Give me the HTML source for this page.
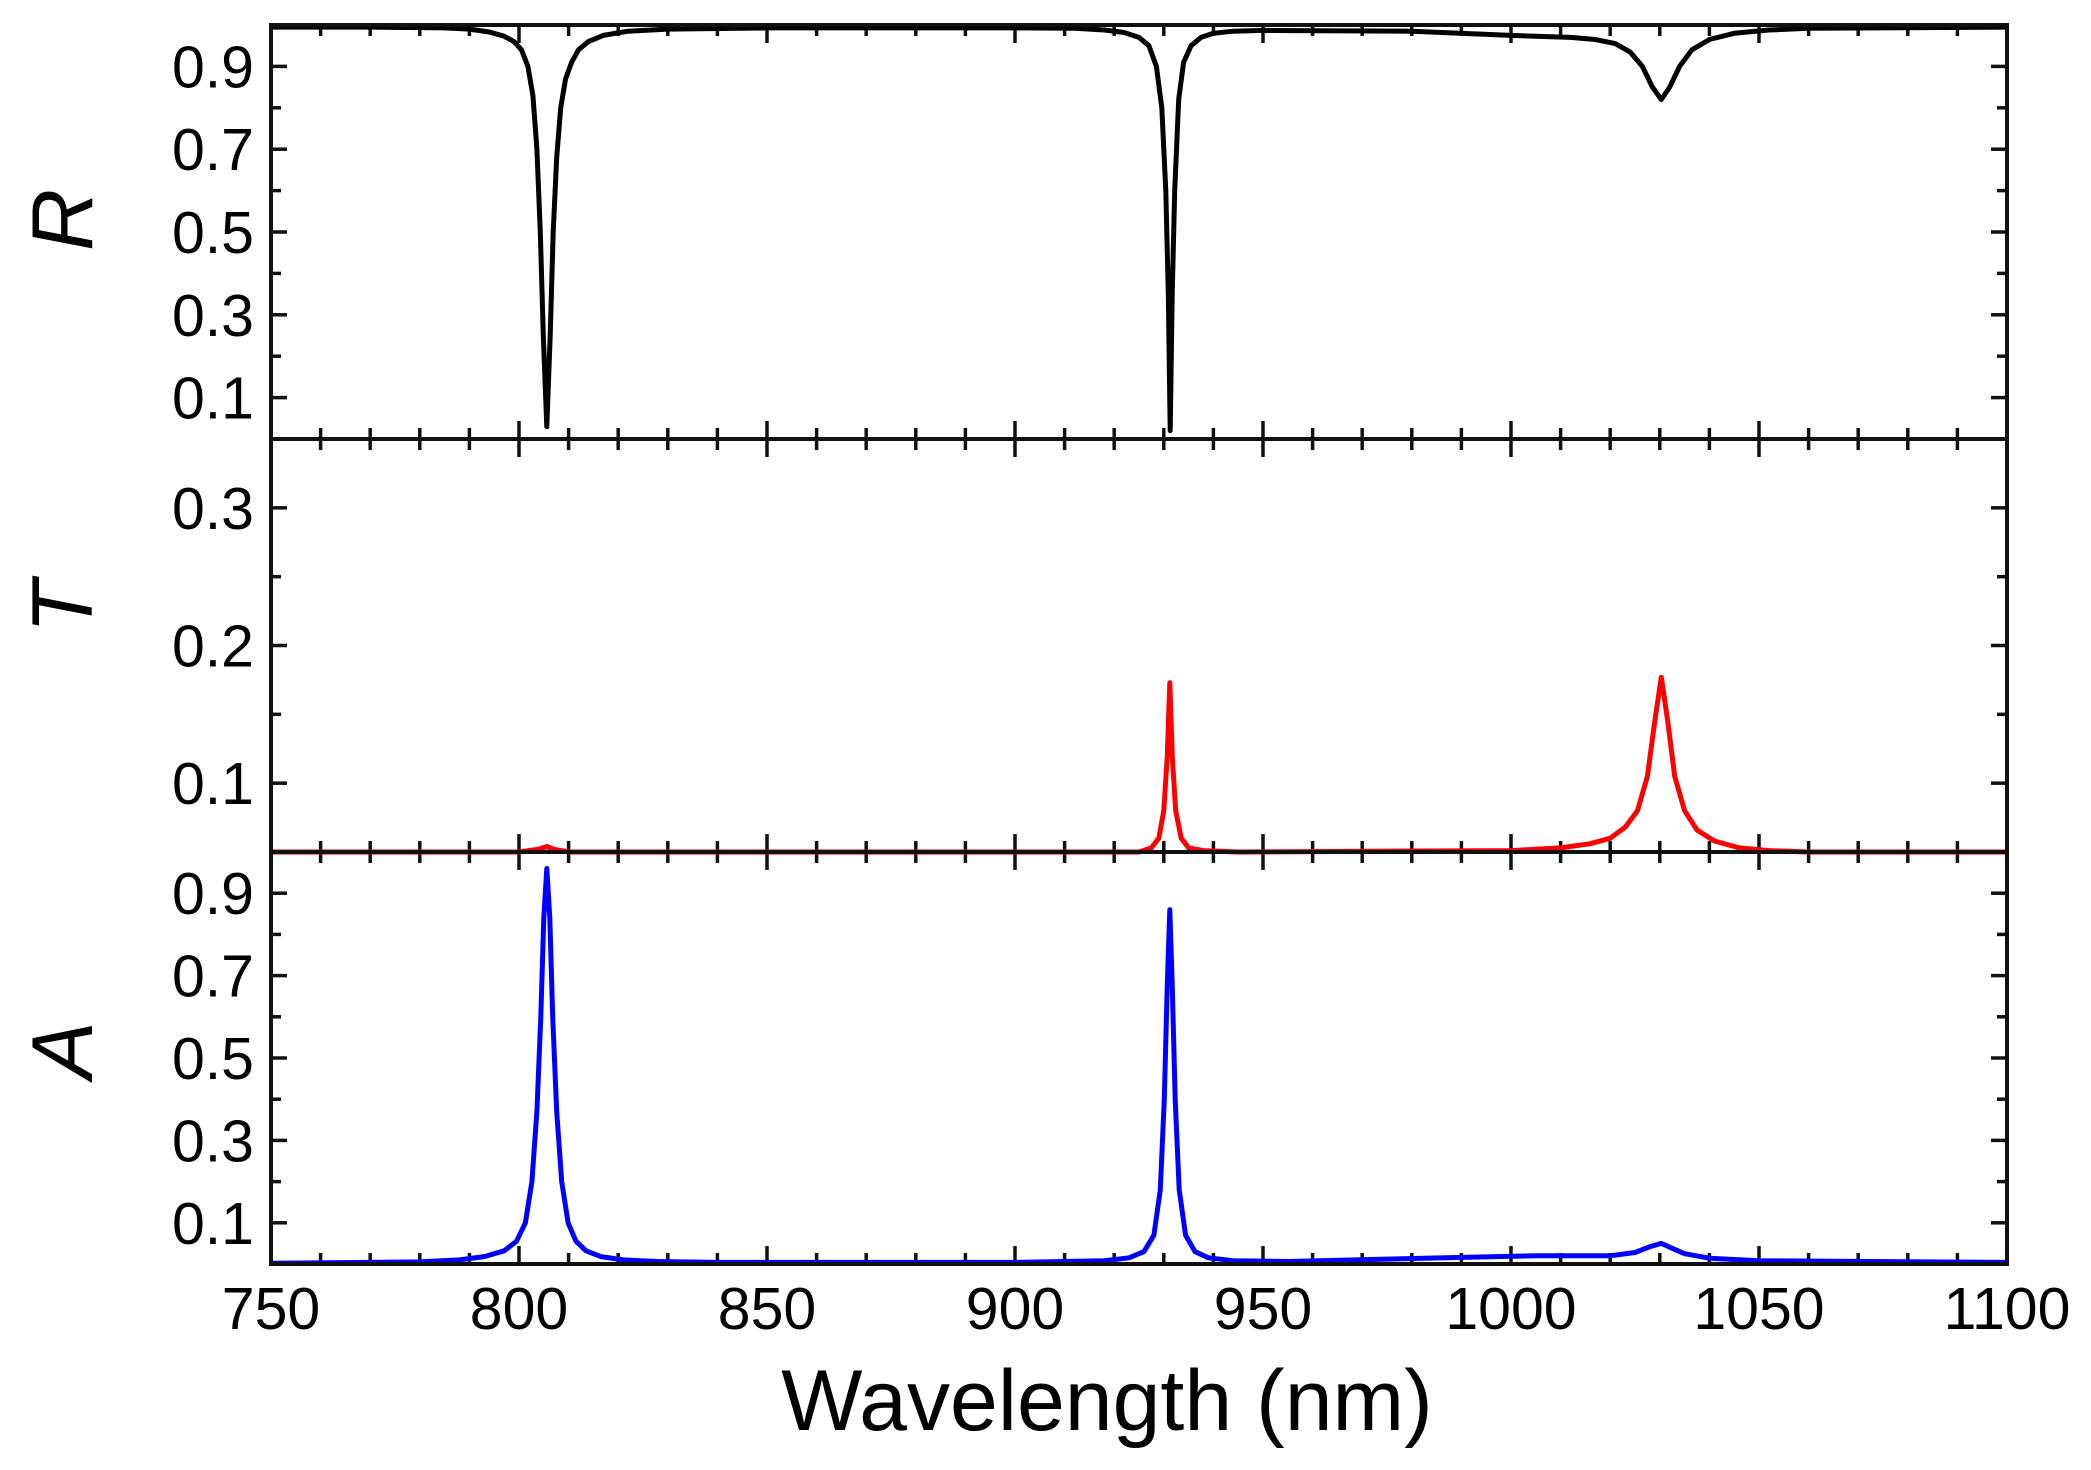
<!DOCTYPE html>
<html><head><meta charset="utf-8"><style>
html,body{margin:0;padding:0;background:#fff;}
svg{display:block;}
text{font-family:"Liberation Sans",Arial,sans-serif;fill:#000;}
</style></head>
<body>
<svg id="chart" width="2091" height="1470" viewBox="0 0 2091 1470" xmlns="http://www.w3.org/2000/svg">
<g id="axes"></g>
<g id="series"></g>
<g id="frames"></g>
<text x="1107" y="1430" font-size="86" text-anchor="middle">Wavelength (nm)</text>
<text font-size="86" font-style="italic" text-anchor="middle" transform="translate(92,220) rotate(-90)">R</text>
<text font-size="86" font-style="italic" text-anchor="middle" transform="translate(92,607) rotate(-90)">T</text>
<text font-size="86" font-style="italic" text-anchor="middle" transform="translate(92,1050) rotate(-90)">A</text>
</svg>
<script>
// ---- data ----
const xTickLabels = [750, 800, 850, 900, 950, 1000, 1050, 1100];
const rTickLabels = [0.1, 0.3, 0.5, 0.7, 0.9];
const tTickLabels = [0.1, 0.2, 0.3];
const aTickLabels = [0.1, 0.3, 0.5, 0.7, 0.9];

const rWavelength = [750,770,785,790,794,797,799,800.5,801.8,802.8,803.6,804.3,804.9,805.6,806.3,806.9,807.6,808.4,809.4,810.6,812,814,817,822,830,850,900,912,918,922,925,927,928.5,929.6,930.4,930.9,931.3,931.7,932.2,933,934,935.5,937.5,940,944,950,980,1000,1012,1017,1021,1024,1026.5,1028.5,1030.3,1032,1034,1036.5,1040,1045,1052,1060,1100];
const rValues = [0.995,0.995,0.993,0.99,0.983,0.973,0.96,0.94,0.9,0.83,0.7,0.5,0.25,0.03,0.25,0.5,0.68,0.8,0.87,0.91,0.94,0.96,0.975,0.985,0.99,0.993,0.993,0.992,0.988,0.982,0.97,0.95,0.9,0.8,0.6,0.35,0.02,0.35,0.6,0.82,0.91,0.95,0.97,0.98,0.985,0.987,0.985,0.975,0.97,0.965,0.955,0.935,0.9,0.85,0.82,0.85,0.9,0.94,0.965,0.98,0.988,0.992,0.995];

const tWavelength = [750,800,804,805.6,807,810,925,927.5,929,930,930.7,931.2,931.7,932.4,933.5,935,938,945,1000,1010,1016,1020,1023,1025.5,1027.5,1029,1030.3,1031.6,1033,1035,1037.5,1041,1046,1052,1060,1100];
const tValues = [0.05,0.05,0.052,0.054,0.052,0.05,0.05,0.053,0.06,0.08,0.12,0.173,0.12,0.08,0.06,0.053,0.051,0.05,0.051,0.053,0.056,0.06,0.068,0.08,0.105,0.145,0.177,0.145,0.105,0.08,0.066,0.058,0.053,0.051,0.05,0.05];

const aWavelength = [750,780,788,793,797,799.5,801.3,802.6,803.6,804.4,805,805.6,806.2,806.8,807.6,808.6,809.9,811.5,813.5,816.5,821,828,840,900,918,923,926,928,929.3,930.1,930.7,931.2,931.7,932.3,933.1,934.4,936.3,939,944,955,975,990,1005,1020,1025,1028,1030.3,1032.5,1035,1040,1050,1100];
const aValues = [0.002,0.005,0.01,0.018,0.032,0.055,0.1,0.2,0.37,0.6,0.84,0.96,0.84,0.6,0.37,0.2,0.1,0.055,0.032,0.018,0.01,0.006,0.004,0.004,0.008,0.015,0.03,0.07,0.18,0.4,0.68,0.86,0.68,0.4,0.18,0.07,0.03,0.015,0.008,0.006,0.012,0.016,0.02,0.02,0.028,0.042,0.05,0.038,0.025,0.014,0.008,0.004];

// ---- layout ----
const X0 = 271, X1 = 2007, XMIN = 750, XMAX = 1100;
const xScale = v => X0 + (v - XMIN) / (XMAX - XMIN) * (X1 - X0);
const panels = [
  {key:'r', top:25, bottom:439, min:0, max:1, ticks:rTickLabels, minor:[0.2,0.4,0.6,0.8], fmt:1},
  {key:'t', top:439, bottom:852, min:0.05, max:0.35, ticks:tTickLabels, minor:[0.15,0.25], fmt:1},
  {key:'a', top:852, bottom:1264, min:0, max:1, ticks:aTickLabels, minor:[0.2,0.4,0.6,0.8], fmt:1}
];
const mkY = p => v => { const c = Math.max(p.min, Math.min(p.max, v)); return p.bottom - (c - p.min) / (p.max - p.min) * (p.bottom - p.top); };
const NS = 'http://www.w3.org/2000/svg';
const axes = document.getElementById('axes');
const series = document.getElementById('series');
const frames = document.getElementById('frames');
function line(parent, x1, y1, x2, y2, w) {
  const l = document.createElementNS(NS, 'line');
  l.setAttribute('x1', x1); l.setAttribute('y1', y1); l.setAttribute('x2', x2); l.setAttribute('y2', y2);
  l.setAttribute('stroke', '#111'); l.setAttribute('stroke-width', w);
  parent.appendChild(l);
  return l;
}

panels.forEach(p => {
  const y = mkY(p);
  const r = document.createElementNS(NS, 'rect');
  r.setAttribute('x', X0); r.setAttribute('y', p.top); r.setAttribute('width', X1 - X0); r.setAttribute('height', p.bottom - p.top);
  r.setAttribute('fill', 'none'); r.setAttribute('stroke', '#111'); r.setAttribute('stroke-width', 4);
  
  
  frames.appendChild(r);
  for (let w = 760; w < 1100; w += 10) {
    const major = w % 50 === 0;
    const len = major ? 18 : 11;
    const xx = xScale(w);
    const t1 = line(axes, xx, p.top, xx, p.top + len, 3.5);
    
    
    const t2 = line(axes, xx, p.bottom, xx, p.bottom - len, 3.5);
    
    
  }
  p.ticks.forEach(v => {
    const yy = y(v);
    const a = line(axes, X0, yy, X0 + 16, yy, 3.5);
    
    
    const b = line(axes, X1, yy, X1 - 16, yy, 3.5);
    
    
    const t = document.createElementNS(NS, 'text');
    t.setAttribute('x', 254); t.setAttribute('y', yy + 21);
    t.setAttribute('font-size', 59); t.setAttribute('text-anchor', 'end');
    t.textContent = v.toFixed(p.fmt);
    
    
    axes.appendChild(t);
  });
  p.minor.forEach(v => {
    const yy = y(v);
    const a = line(axes, X0, yy, X0 + 10, yy, 3.5);
    
    
    const b = line(axes, X1, yy, X1 - 10, yy, 3.5);
    
    
  });
});

xTickLabels.forEach(v => {
  const t = document.createElementNS(NS, 'text');
  t.setAttribute('x', xScale(v)); t.setAttribute('y', 1329);
  t.setAttribute('font-size', 59); t.setAttribute('text-anchor', 'middle');
  t.textContent = v;
  
  
  axes.appendChild(t);
});

function drawSeries(xs, ys, p, color, name) {
  const y = mkY(p);
  const d = xs.map((w, i) => (i ? 'L' : 'M') + xScale(w).toFixed(1) + ' ' + y(ys[i]).toFixed(1)).join(' ');
  const path = document.createElementNS(NS, 'path');
  path.setAttribute('d', d);
  path.setAttribute('fill', 'none'); path.setAttribute('stroke', color);
  path.setAttribute('stroke-width', 5); path.setAttribute('stroke-linejoin', 'round');
  
  
  series.appendChild(path);
}
drawSeries(rWavelength, rValues, panels[0], '#000', 'reflectance-line');
drawSeries(tWavelength, tValues, panels[1], '#ff0000', 'transmittance-line');
drawSeries(aWavelength, aValues, panels[2], '#0000ff', 'absorbance-line');
</script>
</body></html>
